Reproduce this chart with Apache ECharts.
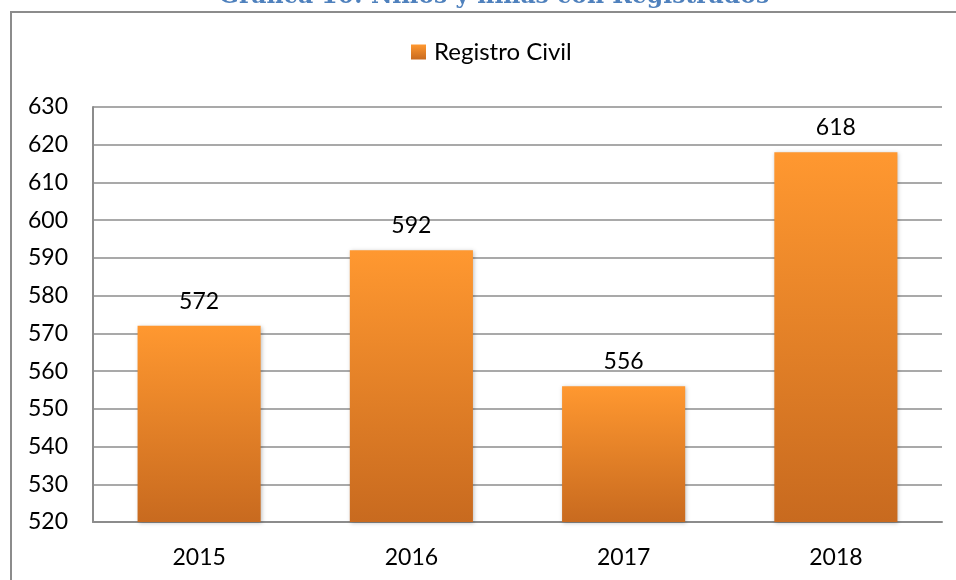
<!DOCTYPE html>
<html>
<head>
<meta charset="utf-8">
<script src="https://cdn.jsdelivr.net/npm/echarts@6/dist/echarts.min.js"></script>
<style>html,body{margin:0;padding:0;background:#fff}#c{width:956px;height:580px}</style>
</head>
<body>
<div id="c"></div>
<script>
const categories = ['2015', '2016', '2017', '2018'];
const registroCivil = [572, 592, 556, 618];
const seriesName = 'Registro Civil';
const titleText = 'Gráfica 10: Niños y niñas con Registrados';

const chart = echarts.init(document.getElementById('c'));
const grad = new echarts.graphic.LinearGradient(0, 0, 0, 1, [
  {offset: 0, color: '#FF9830'},
  {offset: 1, color: '#C86A1F'}
]);
const font = 'Lato, "Open Sans", sans-serif';
chart.setOption({
  animation: false,
  graphic: [
    {type: 'rect', shape: {x: 11, y: 12, width: 1000, height: 1000}, style: {fill: 'none', stroke: '#8c8c8c', lineWidth: 2}, silent: true},
    {type: 'text', x: 494, y: 9, style: {text: titleText, align: 'center', verticalAlign: 'bottom', fill: '#4F81BD', font: 'bold 23.5px "DejaVu Serif", serif'}}
  ],
  legend: {
    top: 35, left: 406,
    itemWidth: 15, itemHeight: 15, itemGap: 8,
    textStyle: {fontFamily: font, fontSize: 24, color: '#000', padding: [0, 0, 0, 3]},
    data: [{name: seriesName, icon: 'rect'}]
  },
  grid: {left: 93, right: 14, top: 107, bottom: 58, containLabel: false},
  xAxis: {
    type: 'category', data: categories,
    axisLine: {lineStyle: {color: '#8c8c8c', width: 2}},
    axisTick: {show: false},
    axisLabel: {fontFamily: font, fontSize: 23, color: '#000', margin: 24}
  },
  yAxis: {
    type: 'value', min: 520, max: 630, interval: 10,
    axisLine: {show: true, lineStyle: {color: '#8c8c8c', width: 2}},
    axisTick: {show: false},
    splitLine: {lineStyle: {color: '#8c8c8c', width: 1.5}},
    axisLabel: {fontFamily: font, fontSize: 23, color: '#000', margin: 25}
  },
  series: [{
    name: seriesName, type: 'bar', data: registroCivil, barWidth: '58%',
    itemStyle: {color: grad, shadowColor: 'rgba(0,0,0,0.25)', shadowBlur: 4, shadowOffsetX: 1, shadowOffsetY: 1},
    label: {show: true, position: 'top', distance: 13, fontFamily: font, fontSize: 23, color: '#000'}
  }]
});
</script>
</body>
</html>
